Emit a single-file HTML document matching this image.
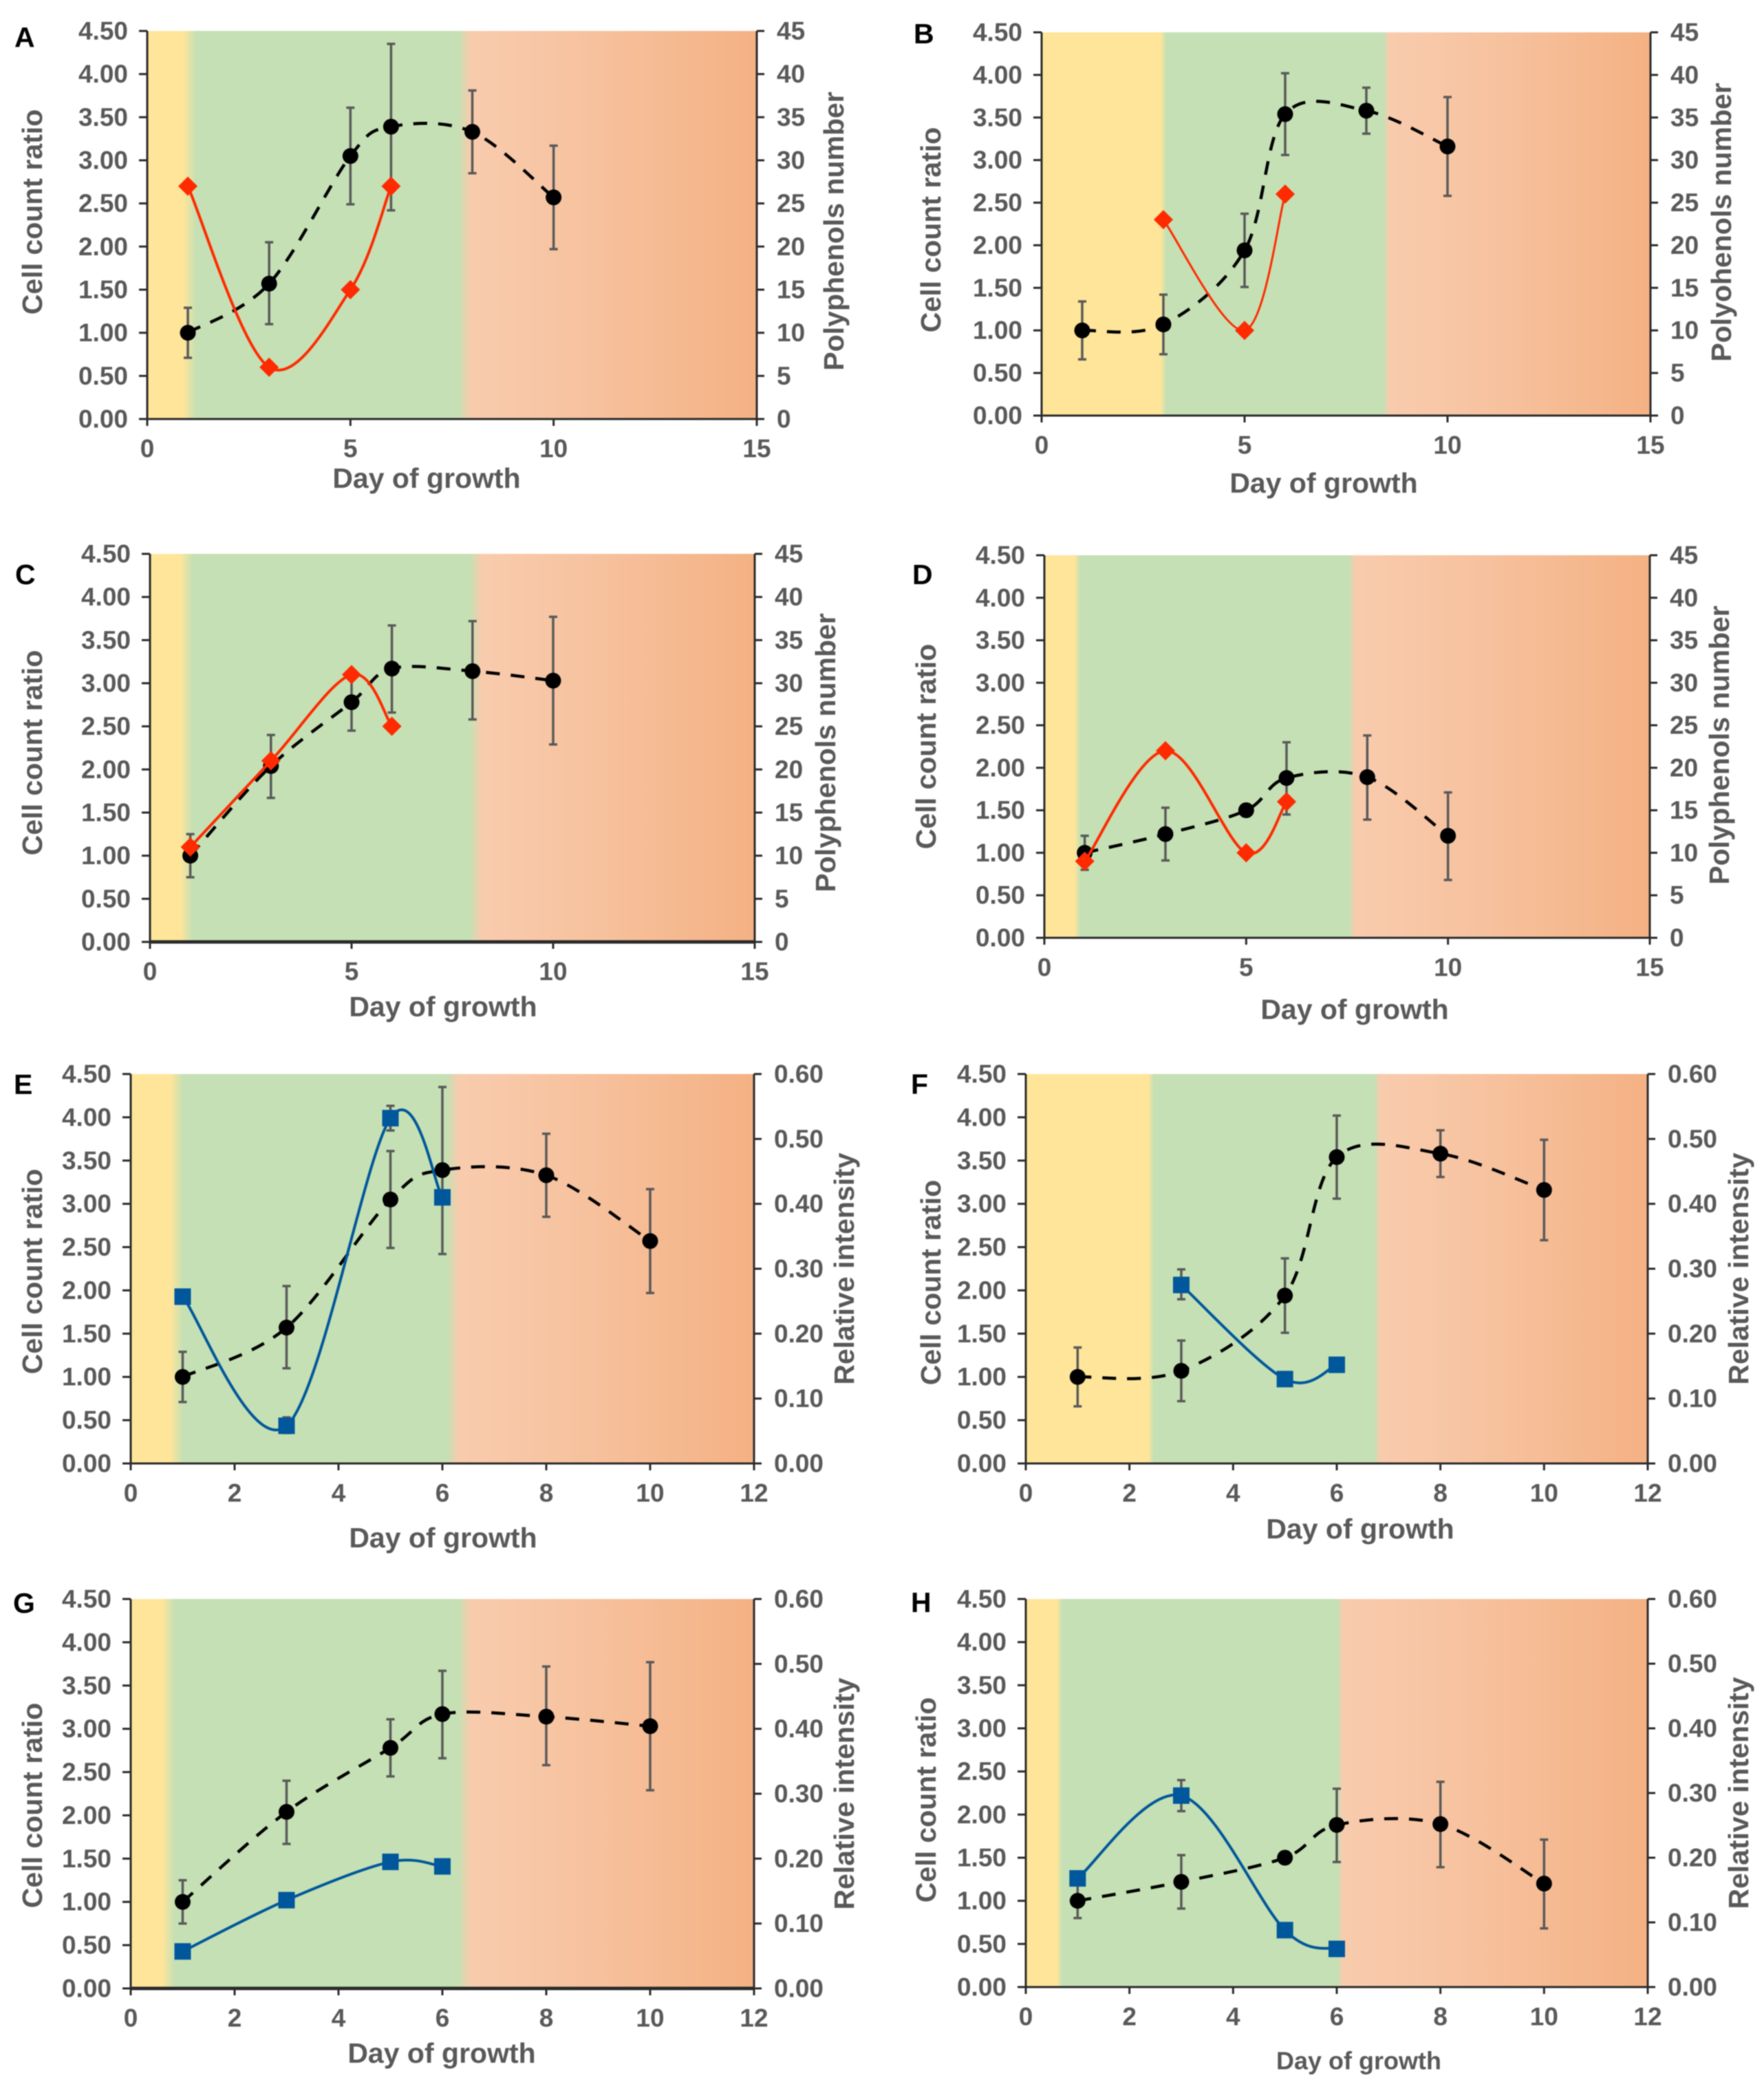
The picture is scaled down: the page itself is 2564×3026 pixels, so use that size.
<!DOCTYPE html>
<html lang="en">
<head>
<meta charset="utf-8">
<title>Cell count ratio and polyphenols panels A-H</title>
<style>
html,body{margin:0;padding:0;background:#fff;width:2564px;height:3026px;overflow:hidden}
svg{display:block;filter:blur(0.7px)}
text{font-family:"Liberation Sans",Arial,sans-serif;font-weight:700;fill:#595959}
</style>
</head>
<body>
<svg id="figure" xmlns="http://www.w3.org/2000/svg" width="2564" height="3026" viewBox="0 0 2564 3026"><defs id="gradients"></defs></svg>
<script>
// ---- Shared categories and tick labels ----
const days = [1, 3, 5, 6, 8, 10];
const leftTicks = ["0.00","0.50","1.00","1.50","2.00","2.50","3.00","3.50","4.00","4.50"];
const polyTicks = ["0","5","10","15","20","25","30","35","40","45"];
const relTicks = ["0.00","0.10","0.20","0.30","0.40","0.50","0.60"];
const xTicks15 = [0, 5, 10, 15];
const xTicks12 = [0, 2, 4, 6, 8, 10, 12];

// ---- Cell count ratio series (mean / upper / lower whisker) ----
const cellAE = [1.00, 1.57, 3.05, 3.39, 3.33, 2.57];
const cellAEHigh = [1.29, 2.05, 3.61, 4.35, 3.81, 3.17];
const cellAELow = [0.71, 1.10, 2.49, 2.42, 2.85, 1.97];
const cellBF = [1.00, 1.07, 1.94, 3.54, 3.58, 3.16];
const cellBFHigh = [1.34, 1.42, 2.37, 4.02, 3.85, 3.74];
const cellBFLow = [0.66, 0.72, 1.51, 3.06, 3.31, 2.58];
const cellCG = [1.00, 2.04, 2.78, 3.17, 3.14, 3.03];
const cellCGHigh = [1.25, 2.40, 3.11, 3.67, 3.72, 3.77];
const cellCGLow = [0.75, 1.67, 2.45, 2.66, 2.58, 2.29];
const cellDH = [1.00, 1.22, 1.50, 1.88, 1.89, 1.20];
const cellDHHigh = [1.20, 1.53, 1.57, 2.30, 2.38, 1.71];
const cellDHLow = [0.80, 0.91, 1.43, 1.45, 1.39, 0.68];

// ---- Polyphenols number series ----
const polyDaysFull = [1, 3, 5, 6];
const polyDaysShort = [3, 5, 6];
const polyA = [27, 6, 15, 27];
const polyB = [23, 10, 26];
const polyC = [11, 21, 31, 25];
const polyD = [9, 22, 10, 16];

// ---- Relative intensity series ----
const relE = [0.257, 0.058, 0.532, 0.410];
const relEHigh = [null, 0.071, 0.551, null];
const relELow = [null, 0.047, 0.513, null];
const relF = [0.275, 0.130, 0.152];
const relFHigh = [0.299, null, null];
const relFLow = [0.253, null, null];
const relG = [0.057, 0.136, 0.195, 0.188];
const relH = [0.168, 0.296, 0.088, 0.059];
const relHHigh = [null, 0.320, null, null];
const relHLow = [null, 0.272, null, null];

// ---- Panel layout ----
const panels = [
 {id:"A",box:[214,1100,45,609],zones:[276,675],soft:9,xMax:15,xt:xTicks15,kind:"poly",cell:[cellAE,cellAEHigh,cellAELow],sx:polyDaysFull,sy:polyA,letter:[21,54],yl:[47,308],rl:[1212,336],xl:[620,695],rName:"Polyphenols number"},
 {id:"B",box:[1514,2399,47,604],zones:[1691,2015],soft:4,xMax:15,xt:xTicks15,kind:"poly",cell:[cellBF,cellBFHigh,cellBFLow],sx:polyDaysShort,sy:polyB,thin:true,letter:[1328,49],yl:[1353,334],rl:[2502,323],xl:[1924,702],rName:"Polyohenols number"},
 {id:"C",box:[218,1097,805,1369],zones:[271,691],soft:9,xMax:15,xt:xTicks15,kind:"poly",cell:[cellCG,cellCGHigh,cellCGLow],sx:polyDaysFull,sy:polyC,heavy:true,letter:[22,835],yl:[47,1094],rl:[1200,1094],xl:[644,1463],rName:"Polyphenols number"},
 {id:"D",box:[1518,2398,807,1363],zones:[1566,1965],soft:4,xMax:15,xt:xTicks15,kind:"poly",cell:[cellDH,cellDHHigh,cellDHLow],sx:polyDaysFull,sy:polyD,letter:[1326,835],yl:[1346,1085],rl:[2499,1083],xl:[1969,1467],rName:"Polyphenols number"},
 {id:"E",box:[190,1096,1561,2127],zones:[257,658],soft:9,xMax:12,xt:xTicks12,kind:"rel",cell:[cellAE,cellAEHigh,cellAELow],sx:polyDaysFull,sy:relE,sh:relEHigh,sl:relELow,letter:[20,1576],yl:[47,1848],rl:[1227,1844],xl:[644,2235],rName:"Relative intensity"},
 {id:"F",box:[1491,2395,1561,2127],zones:[1673,2002],soft:4,xMax:12,xt:xTicks12,kind:"rel",cell:[cellBF,cellBFHigh,cellBFLow],sx:polyDaysShort,sy:relF,sh:relFHigh,sl:relFLow,letter:[1324,1576],yl:[1353,1864],rl:[2527,1844],xl:[1977,2222],rName:"Relative intensity"},
 {id:"G",box:[190,1096,2324,2890],zones:[245,675],soft:9,xMax:12,xt:xTicks12,kind:"rel",cell:[cellCG,cellCGHigh,cellCGLow],sx:polyDaysFull,sy:relG,heavy:true,letter:[19,2330],yl:[47,2624],rl:[1227,2607],xl:[642,2984],rName:"Relative intensity"},
 {id:"H",box:[1491,2395,2324,2888],zones:[1540,1948],soft:4,xMax:12,xt:xTicks12,kind:"rel",cell:[cellDH,cellDHHigh,cellDHLow],sx:polyDaysFull,sy:relH,sh:relHHigh,sl:relHLow,letter:[1324,2329],yl:[1346,2616],rl:[2527,2606],xl:[1975,2995],xlSize:36,rName:"Relative intensity"}
];

const NS = "http://www.w3.org/2000/svg";
const svg = document.getElementById("figure");
const defs = document.getElementById("gradients");



function make(tag, attrs, parent) {
  const e = document.createElementNS(NS, tag);
  for (const k in attrs) e.setAttribute(k, attrs[k]);
  parent.appendChild(e);
  return e;
}

// Excel-style smoothed line: Catmull-Rom segments converted to cubic Beziers.
function smoothPath(pts) {
  let d = "M" + pts[0][0].toFixed(2) + " " + pts[0][1].toFixed(2);
  for (let i = 0; i < pts.length - 1; i++) {
    const p0 = pts[Math.max(i - 1, 0)], p1 = pts[i], p2 = pts[i + 1], p3 = pts[Math.min(i + 2, pts.length - 1)];
    const c1x = p1[0] + (p2[0] - p0[0]) / 6, c1y = p1[1] + (p2[1] - p0[1]) / 6;
    const c2x = p2[0] - (p3[0] - p1[0]) / 6, c2y = p2[1] - (p3[1] - p1[1]) / 6;
    d += "C" + c1x.toFixed(2) + " " + c1y.toFixed(2) + " " + c2x.toFixed(2) + " " + c2y.toFixed(2) + " " + p2[0].toFixed(2) + " " + p2[1].toFixed(2);
  }
  return d;
}

function addGradient(p) {
  const [L, R] = p.box;
  const off = v => ((v - L) / (R - L) * 100).toFixed(2) + "%";
  const g = make("linearGradient", {id: "bg" + p.id, gradientUnits: "userSpaceOnUse", x1: L, x2: R, y1: 0, y2: 0}, defs);
  const stops = [
    [L, "#FEE599"], [p.zones[0] - p.soft, "#FEE599"], [p.zones[0] + p.soft, "#C5E0B4"],
    [p.zones[1] - p.soft, "#C5E0B4"], [p.zones[1] + p.soft, "#F8CBAD"],
    [p.zones[1] + (R - p.zones[1]) * 0.45, "#F6C19D"], [R, "#F4B183"]
  ];
  stops.forEach(s => make("stop", {offset: off(s[0]), "stop-color": s[1]}, g));
}

function addText(parent, str, x, y, size, anchor, fill, rotate) {
  const attrs = {x: x, y: y, "font-size": size, "text-anchor": anchor, "dominant-baseline": "central"};
  if (fill) attrs.style = "fill:" + fill;
  if (rotate) attrs.transform = "rotate(-90 " + x + " " + y + ")";
  const t = make("text", attrs, parent);
  t.textContent = str;
  return t;
}

function drawPanel(p) {
  addGradient(p);
  const [L, R, T, B] = p.box;
  const sx = v => L + v / p.xMax * (R - L);
  const sy = v => B - v / 4.5 * (B - T);
  const rMax = p.kind === "poly" ? 45 : 0.6;
  const sr = v => B - v / rMax * (B - T);
  const rLabels = p.kind === "poly" ? polyTicks : relTicks;

  const g = make("g", {}, svg);
  
  

  const bg = make("rect", {x: L, y: T, width: R - L, height: B - T, fill: "url(#bg" + p.id + ")"}, g);
  
  

  const axisColor = "#2b2b2b";
  const bw = p.heavy ? 5 : 3;
  const axes = make("g", {stroke: axisColor, "stroke-width": 3, fill: "none"}, g);
  
  
  make("line", {x1: L, x2: L, y1: T, y2: B}, axes);
  make("line", {x1: R, x2: R, y1: T, y2: B}, axes);
  make("line", {x1: L - 1.5, x2: R + 1.5, y1: B, y2: B, "stroke-width": bw}, axes);

  leftTicks.forEach((label, i) => {
    const y = sy(i * 0.5);
    make("line", {x1: L - 12, x2: L, y1: y, y2: y}, axes);
    const t = addText(g, label, L - 28, y, 37, "end");
    
    
  });
  rLabels.forEach((label, i) => {
    const y = sr(parseFloat(label));
    make("line", {x1: R, x2: R + 11, y1: y, y2: y}, axes);
    const t = addText(g, label, R + 29, y, 37, "start");
    
    
  });
  p.xt.forEach(v => {
    const x = sx(v);
    make("line", {x1: x, x2: x, y1: B, y2: B + 10}, axes);
    const t = addText(g, String(v), x, B + 43, 37, "middle");
    
    
  });

  const letter = addText(g, p.id, p.letter[0], p.letter[1], 41, "start", "#000");
  
  
  const yTitle = addText(g, "Cell count ratio", p.yl[0], p.yl[1], 41, "middle", null, true);
  
  
  const rTitle = addText(g, p.rName, p.rl[0], p.rl[1], 41, "middle", null, true);
  
  
  const xTitle = addText(g, "Day of growth", p.xl[0], p.xl[1], p.xlSize || 41, "middle");
  
  

  // Cell count ratio: whiskers, dashed smooth line, round markers
  const [mean, high, low] = p.cell;
  const whiskers = make("g", {stroke: "#595959", "stroke-width": 3.5, fill: "none"}, g);
  
  
  days.forEach((d, i) => {
    const x = sx(d);
    make("line", {x1: x, x2: x, y1: sy(high[i]), y2: sy(low[i])}, whiskers);
    make("line", {x1: x - 6, x2: x + 6, y1: sy(high[i]), y2: sy(high[i])}, whiskers);
    make("line", {x1: x - 6, x2: x + 6, y1: sy(low[i]), y2: sy(low[i])}, whiskers);
  });
  const cellPts = days.map((d, i) => [sx(d), sy(mean[i])]);
  const dash = make("path", {d: smoothPath(cellPts), fill: "none", stroke: "#000", "stroke-width": 4.5, "stroke-dasharray": "20 16"}, g);
  
  
  cellPts.forEach(pt => {
    const c = make("circle", {cx: pt[0], cy: pt[1], r: 11.5, fill: "#000"}, g);
    
    
  });

  // Secondary series
  const secondaryPts = p.sx.map((d, i) => [sx(d), sr(p.sy[i])]);
  if (p.sh) {
    const secWhisk = make("g", {stroke: "#595959", "stroke-width": 3.5, fill: "none"}, g);
    
    
    p.sx.forEach((d, i) => {
      if (p.sh[i] === null) return;
      const x = sx(d);
      make("line", {x1: x, x2: x, y1: sr(p.sh[i]), y2: sr(p.sl[i])}, secWhisk);
      make("line", {x1: x - 6, x2: x + 6, y1: sr(p.sh[i]), y2: sr(p.sh[i])}, secWhisk);
      make("line", {x1: x - 6, x2: x + 6, y1: sr(p.sl[i]), y2: sr(p.sl[i])}, secWhisk);
    });
  }
  if (p.kind === "poly") {
    const line = make("path", {d: smoothPath(secondaryPts), fill: "none", stroke: "#FF2A00", "stroke-width": p.thin ? 3 : 4}, g);
    
    
    secondaryPts.forEach(pt => {
      const m = make("polygon", {points: [[pt[0], pt[1] - 14], [pt[0] + 14, pt[1]], [pt[0], pt[1] + 14], [pt[0] - 14, pt[1]]].join(" "), fill: "#FF2A00"}, g);
      
      
    });
  } else {
    const line = make("path", {d: smoothPath(secondaryPts), fill: "none", stroke: "#01579B", "stroke-width": 4}, g);
    
    
    secondaryPts.forEach(pt => {
      const m = make("rect", {x: pt[0] - 12, y: pt[1] - 12, width: 24, height: 24, fill: "#01579B"}, g);
      
      
    });
  }
}

panels.forEach(drawPanel);
</script>
</body>
</html>
